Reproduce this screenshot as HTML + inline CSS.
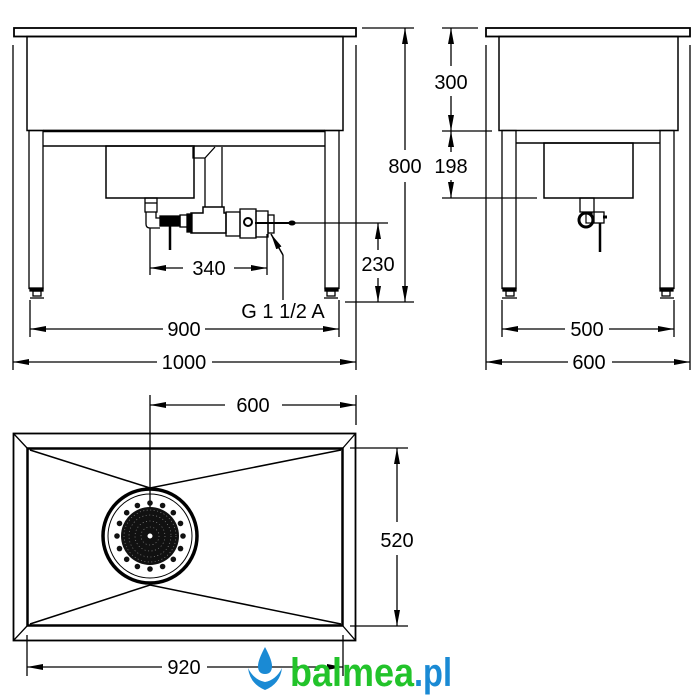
<!DOCTYPE html>
<html><head><meta charset="utf-8"><style>html,body{margin:0;padding:0;background:#fff}svg{display:block}</style></head>
<body>
<svg width="700" height="700" viewBox="0 0 700 700" xmlns="http://www.w3.org/2000/svg">
<defs>
<marker id="a" viewBox="0 0 16 6" refX="16" refY="3" markerWidth="16" markerHeight="6" markerUnits="userSpaceOnUse" orient="auto-start-reverse"><path d="M0,0 L16,3 L0,6 z" fill="#000"/></marker>
</defs>
<g fill="none" stroke="#000" stroke-width="1.3">
<!-- FRONT VIEW -->
<rect x="14" y="28" width="342" height="8.5" stroke-width="1.8"/>
<rect x="27" y="36.5" width="316" height="94" stroke-width="1.5"/>
<line x1="43" y1="131" x2="325" y2="131" stroke-width="2.5"/>
<rect x="29" y="130.5" width="14" height="158"/>
<rect x="325" y="130.5" width="14" height="158"/>
<line x1="43" y1="146" x2="325" y2="146" stroke-width="1.5"/>
<rect x="30" y="288" width="13" height="3" fill="#000"/>
<rect x="325" y="288" width="13" height="3" fill="#000"/>
<rect x="33" y="291" width="8" height="5"/><rect x="327" y="291" width="8" height="5"/>
<line x1="30" y1="298" x2="44" y2="298"/><line x1="324" y1="298" x2="338" y2="298"/>
<rect x="106" y="146" width="88" height="52" stroke-width="1.5"/>
<path d="M193 147 V158 H205 V207 M222 147 V207 M215 147 L205 158"/>
<path d="M203 207 V213 H191 V233 H226 V213 H224 V207 Z" stroke-width="1.5"/>
<rect x="187" y="214" width="5" height="18" fill="#000"/>
<rect x="226" y="212" width="14" height="24"/>
<rect x="240" y="209" width="16" height="29"/>
<rect x="256" y="211" width="12" height="26"/>
<rect x="268" y="215" width="6" height="18"/>
<circle cx="248" cy="222" r="4" stroke-width="2"/>
<line x1="255" y1="223" x2="290" y2="223" stroke-width="2"/>
<ellipse cx="292" cy="223" rx="3" ry="1.8" fill="#000"/>
<rect x="145" y="198" width="12" height="14"/>
<line x1="145" y1="203" x2="157" y2="203"/>
<path d="M146 212 V224 Q146 228 150 228 H160 M156 212 V218 H160"/>
<rect x="160" y="216" width="20" height="10" fill="#000"/>
<rect x="180" y="215" width="8" height="12"/>
<line x1="170" y1="226" x2="170" y2="250" stroke-width="2.5"/>
<!-- front dims -->
<line x1="150" y1="228" x2="150" y2="275"/>
<line x1="267" y1="234" x2="267" y2="275"/>
<line x1="150" y1="268" x2="183" y2="268" marker-start="url(#a)"/>
<line x1="234" y1="268" x2="267" y2="268" marker-end="url(#a)"/>
<line x1="283" y1="300" x2="283" y2="255"/>
<line x1="283" y1="255" x2="271" y2="234" marker-end="url(#a)" stroke-width="1.5"/>
<line x1="292" y1="223" x2="388" y2="223"/>
<line x1="345" y1="302" x2="414" y2="302"/>
<line x1="378" y1="223" x2="378" y2="250" marker-start="url(#a)"/>
<line x1="378" y1="278" x2="378" y2="302" marker-end="url(#a)"/>
<line x1="362" y1="28" x2="414" y2="28"/>
<line x1="405" y1="28" x2="405" y2="150" marker-start="url(#a)"/>
<line x1="405" y1="182" x2="405" y2="302" marker-end="url(#a)"/>
<line x1="30" y1="300" x2="30" y2="337"/><line x1="339" y1="300" x2="339" y2="337"/>
<line x1="30" y1="329" x2="163" y2="329" marker-start="url(#a)"/>
<line x1="205" y1="329" x2="339" y2="329" marker-end="url(#a)"/>
<line x1="13" y1="45" x2="13" y2="370"/><line x1="356" y1="45" x2="356" y2="370"/>
<line x1="13" y1="362" x2="157" y2="362" marker-start="url(#a)"/>
<line x1="212" y1="362" x2="356" y2="362" marker-end="url(#a)"/>
<!-- SIDE VIEW -->
<rect x="486" y="28" width="204" height="8.5" stroke-width="1.8"/>
<rect x="499" y="36.5" width="179" height="94" stroke-width="1.5"/>
<rect x="502" y="130.5" width="14" height="158"/>
<rect x="660" y="130.5" width="14" height="158"/>
<line x1="516" y1="143" x2="660" y2="143" stroke-width="1.5"/>
<rect x="544" y="143" width="89" height="55" stroke-width="1.5"/>
<rect x="503" y="288" width="13" height="3" fill="#000"/><rect x="660" y="288" width="13" height="3" fill="#000"/>
<rect x="506" y="291" width="8" height="5"/><rect x="662" y="291" width="8" height="5"/>
<line x1="502" y1="298" x2="517" y2="298"/><line x1="660" y1="298" x2="674" y2="298"/>
<rect x="580" y="198" width="14" height="14"/>
<circle cx="586" cy="220" r="7" stroke-width="3"/>
<rect x="586" y="213" width="6" height="10" stroke-width="1.2"/>
<rect x="594" y="212" width="10" height="11"/>
<line x1="603" y1="217" x2="607" y2="217" stroke-width="3"/>
<line x1="600" y1="223" x2="600" y2="252" stroke-width="2.5"/>
<!-- side dims -->
<line x1="442" y1="28" x2="478" y2="28"/>
<line x1="442" y1="131" x2="492" y2="131"/>
<line x1="442" y1="198" x2="537" y2="198"/>
<line x1="451" y1="28" x2="451" y2="66" marker-start="url(#a)"/>
<line x1="451" y1="96" x2="451" y2="131" marker-end="url(#a)"/>
<line x1="451" y1="131" x2="451" y2="152" marker-start="url(#a)"/>
<line x1="451" y1="180" x2="451" y2="198" marker-end="url(#a)"/>
<line x1="502" y1="300" x2="502" y2="337"/><line x1="674" y1="300" x2="674" y2="337"/>
<line x1="502" y1="329" x2="565" y2="329" marker-start="url(#a)"/>
<line x1="609" y1="329" x2="674" y2="329" marker-end="url(#a)"/>
<line x1="486" y1="45" x2="486" y2="370"/><line x1="690" y1="45" x2="690" y2="370"/>
<line x1="486" y1="362" x2="568" y2="362" marker-start="url(#a)"/>
<line x1="612" y1="362" x2="690" y2="362" marker-end="url(#a)"/>
<!-- TOP VIEW -->
<rect x="13.5" y="433.5" width="342" height="207" stroke-width="1.8"/>
<rect x="27.5" y="448.5" width="315" height="177" stroke-width="2.5"/>
<path d="M13.5 433.5 L27.5 448.5 M355.5 433.5 L342.5 448.5 M13.5 640.5 L27.5 625.5 M355.5 640.5 L342.5 625.5"/>
<path d="M30 450 L150 488 L341 450 M30 624 L150 585 L341 624" stroke-width="1.5"/>
<circle cx="150" cy="536" r="47" stroke-width="3.5"/>
<circle cx="150" cy="536" r="42" stroke-width="1"/>
<line x1="150" y1="395" x2="150" y2="532"/>
<line x1="150" y1="405" x2="225" y2="405" marker-start="url(#a)"/>
<line x1="282" y1="405" x2="356" y2="405" marker-end="url(#a)"/>
<line x1="356" y1="395" x2="356" y2="425"/>
<line x1="350" y1="448" x2="408" y2="448"/>
<line x1="350" y1="626" x2="408" y2="626"/>
<line x1="397" y1="448" x2="397" y2="522" marker-start="url(#a)"/>
<line x1="397" y1="555" x2="397" y2="626" marker-end="url(#a)"/>
<line x1="27" y1="635" x2="27" y2="676"/><line x1="343" y1="635" x2="343" y2="676"/>
<line x1="27" y1="667" x2="162" y2="667" marker-start="url(#a)"/>
<line x1="207" y1="667" x2="343" y2="667" marker-end="url(#a)"/>
</g>
<!-- strainer -->
<circle cx="150" cy="536" r="29" fill="#111"/>
<g fill="#111">
<circle cx="183" cy="536" r="2.8"/><circle cx="117" cy="536" r="2.8"/><circle cx="150" cy="503" r="2.8"/><circle cx="150" cy="569" r="2.8"/>
<circle cx="180.5" cy="548.6" r="2.8"/><circle cx="173.3" cy="559.3" r="2.8"/><circle cx="162.6" cy="566.5" r="2.8"/>
<circle cx="137.4" cy="566.5" r="2.8"/><circle cx="126.7" cy="559.3" r="2.8"/><circle cx="119.5" cy="548.6" r="2.8"/>
<circle cx="119.5" cy="523.4" r="2.8"/><circle cx="126.7" cy="512.7" r="2.8"/><circle cx="137.4" cy="505.5" r="2.8"/>
<circle cx="162.6" cy="505.5" r="2.8"/><circle cx="173.3" cy="512.7" r="2.8"/><circle cx="180.5" cy="523.4" r="2.8"/>
</g>
<g stroke="#fff" stroke-width="0.6" stroke-dasharray="1 2.5" fill="none" opacity="0.6">
<circle cx="150" cy="536" r="9"/><circle cx="150" cy="536" r="15"/><circle cx="150" cy="536" r="21"/><circle cx="150" cy="536" r="26"/>
</g>
<circle cx="150" cy="536" r="3" fill="#fff" stroke="#111" stroke-width="1"/>
<!-- text -->
<g font-family="Liberation Sans, sans-serif" font-size="20" fill="#000" text-anchor="middle">
<text x="209" y="275">340</text>
<text x="283" y="318">G 1 1/2 A</text>
<text x="378" y="271">230</text>
<text x="405" y="173">800</text>
<text x="184" y="336">900</text>
<text x="184" y="369">1000</text>
<text x="451" y="89">300</text>
<text x="451" y="173">198</text>
<text x="587" y="336">500</text>
<text x="589" y="369">600</text>
<text x="253" y="412">600</text>
<text x="397" y="547">520</text>
<text x="184" y="674">920</text>
</g>
<!-- logo -->
<path d="M265 647 Q258 660 258 666 Q258 674 265 674 Q272 674 272 666 Q272 660 265 647Z" fill="#1a8ad4"/>
<path d="M248 668 Q250 684 265 690 Q280 684 282 668 Q276 680 265 682 Q254 680 248 668Z" fill="#1a8ad4"/>
<text x="290" y="686" font-family="Liberation Sans, sans-serif" font-weight="bold" font-size="40" fill="#22c32a" textLength="124" lengthAdjust="spacingAndGlyphs">balmea</text>
<text x="414" y="686" font-family="Liberation Sans, sans-serif" font-weight="bold" font-size="40" fill="#1a8ad4" textLength="38" lengthAdjust="spacingAndGlyphs">.pl</text>
</svg>
</body></html>
